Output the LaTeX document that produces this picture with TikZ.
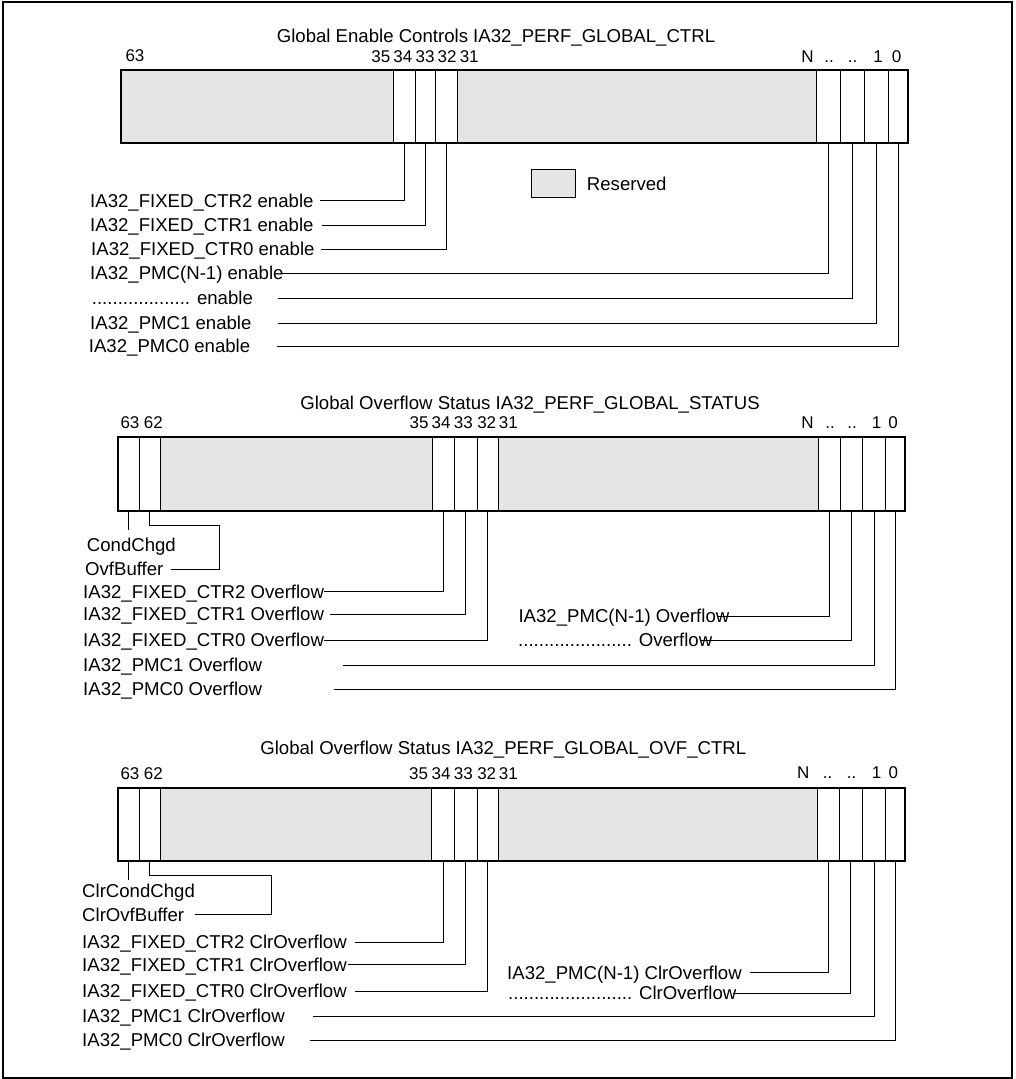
\documentclass[tikz,border=0pt]{standalone}
\usepackage{fontspec}
\setmainfont{Liberation Sans}
\usetikzlibrary{positioning,calc}
\definecolor{rsvgray}{RGB}{229,229,229}
\tikzset{
  lbl/.style={anchor=west,inner sep=0pt,font=\fontsize{18.6}{22}\selectfont,
              text height=13.3pt,text depth=0pt},
  ttl/.style={lbl,anchor=center},
  bitnum/.style={inner sep=0pt,font=\fontsize{17}{20}\selectfont,
                 text height=12.2pt,text depth=0pt},
  cell/.style={draw,line width=0.8pt,inner sep=0pt,outer sep=0pt},
  regframe/.style={draw,line width=2pt,inner sep=0pt,outer sep=0pt},
  wire/.style={line width=0.9pt},
}

\begin{document}
\begin{tikzpicture}[x=1pt,y=-1pt]
  \useasboundingbox (0,0) rectangle (1015,1079);
  \draw[line width=2pt] (2.7,2) rectangle (1011.7,1078);

  % --- IA32_PERF_GLOBAL_CTRL ---
  \node[ttl] (ttlA) at (496,35.5) {Global Enable Controls IA32\_PERF\_GLOBAL\_CTRL};
  \foreach \n/\a/\b/\f in {H/120.7/393.3/rsvgray, F2/393.3/415/white, F1/415/435.7/white,
      F0/435.7/457.7/white, M/457.7/816.7/rsvgray, N/816.7/840/white, D/840/864.3/white,
      P1/864.3/888.3/white, P0/888.3/908.3/white}
    \node[cell,fill=\f,minimum width={\b-\a},minimum height=73.3] (ra\n) at ({(\a+\b)/2},106.7) {};
  \node[regframe,minimum width=787.6,minimum height=73.3] (ra) at (514.5,106.7) {};
  \node[bitnum] (na63) at (135,55.5) {63};
  \foreach \t/\x in {35/380.8, 34/402.9, 33/425, 32/447.1, 31/469.2, N/807.5, ../829, ../852.5, 1/878, 0/896.7}
    \node[bitnum] (na\t) at (\x,56.5) {\t};

  \node[cell,fill=rsvgray,minimum width=44.7,minimum height=28.4] (key) at (553.4,183.5) {};
  \node[lbl,right=11pt of key] (keytxt) {Reserved};

  \node[lbl] (eF2) at (90,200.5) {IA32\_FIXED\_CTR2 enable};
  \node[lbl] (eF1) at (90,225) {IA32\_FIXED\_CTR1 enable};
  \node[lbl] (eF0) at (91,249.3) {IA32\_FIXED\_CTR0 enable};
  \node[lbl] (eN) at (90,273.3) {IA32\_PMC(N-1) enable};
  \node[lbl] (eD) at (91.7,298.3) {................... enable};
  \node[lbl] (eP1) at (90,323.3) {IA32\_PMC1 enable};
  \node[lbl] (eP0) at (88.7,346) {IA32\_PMC0 enable};
  \draw[wire] ([xshift=6pt]eF2.east) -| (raF2.south);
  \draw[wire] ([xshift=8pt]eF1.east) -| (raF1.south);
  \draw[wire] ([xshift=6pt]eF0.east) -| (raF0.south);
  \draw[wire] ([xshift=-2pt]eN.east) -| (raN.south);
  \draw[wire] ([xshift=25pt]eD.east) -| (raD.south);
  \draw[wire] ([xshift=26pt]eP1.east) -| (raP1.south);
  \draw[wire] ([xshift=27pt]eP0.east) -| (raP0.south);

  % --- IA32_PERF_GLOBAL_STATUS ---
  \node[ttl] (ttlB) at (530,403) {Global Overflow Status IA32\_PERF\_GLOBAL\_STATUS};
  \foreach \n/\a/\b/\f in {63/117.7/139.3/white, 62/139.3/160.3/white, H/160.3/432.3/rsvgray,
      F2/432.3/454.3/white, F1/454.3/477.3/white, F0/477.3/498.3/white, M/498.3/818.3/rsvgray,
      N/818.3/840/white, D/840/862.3/white, P1/862.3/885.7/white, P0/885.7/905/white}
    \node[cell,fill=\f,minimum width={\b-\a},minimum height=74] (rb\n) at ({(\a+\b)/2},473.7) {};
  \node[regframe,minimum width=787.3,minimum height=74] (rb) at (511.35,473.7) {};
  \foreach \t/\x in {63/130, 62/153.3, 35/419, 34/441, 33/463.3, 32/486.7, 31/508.3}
    \node[bitnum] (nb\t) at (\x,422) {\t};
  \foreach \t/\x in {N/807.5, ../830, ../852, 1/876.7, 0/893}
    \node[bitnum] (nb\t) at (\x,422.7) {\t};

  \node[lbl] (oC) at (86.7,545) {CondChgd};
  \node[lbl] (oB) at (85,569) {OvfBuffer};
  \node[lbl] (oF2) at (83,591.5) {IA32\_FIXED\_CTR2 Overflow};
  \node[lbl] (oF1) at (83,614) {IA32\_FIXED\_CTR1 Overflow};
  \node[lbl] (oF0) at (83,640) {IA32\_FIXED\_CTR0 Overflow};
  \node[lbl] (oP1) at (83,665.3) {IA32\_PMC1 Overflow};
  \node[lbl] (oP0) at (83,689) {IA32\_PMC0 Overflow};
  \node[lbl] (oN) at (518.3,616) {IA32\_PMC(N-1) Overflow};
  \node[lbl] (oD) at (518,640) {...................... Overflow};
  \draw[wire] (rb63.south) -- ([yshift=8pt]rb63.south |- oC.north);
  \draw[wire] ([xshift=7.6pt]oB.east) -| ([xshift=69.5pt,yshift=-14.6pt]rb62.south) -| (rb62.south);
  \draw[wire] (oF2.east) -| (rbF2.south);
  \draw[wire] ([xshift=5.6pt]oF1.east) -| (rbF1.south);
  \draw[wire] (oF0.east) -| (rbF0.south);
  \draw[wire] ([xshift=81pt]oP1.east) -| (rbP1.south);
  \draw[wire] ([xshift=72pt]oP0.east) -| (rbP0.south);
  \draw[wire] ([xshift=-13pt]oN.east) -| (rbN.south);
  \draw[wire] ([xshift=-12pt]oD.east) -| (rbD.south);

  % --- IA32_PERF_GLOBAL_OVF_CTRL ---
  \node[ttl] (ttlC) at (503.3,747.8) {Global Overflow Status IA32\_PERF\_GLOBAL\_OVF\_CTRL};
  \foreach \n/\a/\b/\f in {63/117.7/139.3/white, 62/139.3/160.3/white, H/160.3/431.7/rsvgray,
      F2/431.7/454.3/white, F1/454.3/477.3/white, F0/477.3/498.3/white, M/498.3/817.3/rsvgray,
      N/817.3/839.3/white, D/839.3/862.3/white, P1/862.3/885.7/white, P0/885.7/905/white}
    \node[cell,fill=\f,minimum width={\b-\a},minimum height=73] (rc\n) at ({(\a+\b)/2},824.2) {};
  \node[regframe,minimum width=787.3,minimum height=73] (rc) at (511.35,824.2) {};
  \foreach \t/\x in {63/130, 62/153.3, 35/418.5, 34/441, 33/463.3, 32/486.7, 31/508.3}
    \node[bitnum] (nc\t) at (\x,773.5) {\t};
  \foreach \t/\x in {N/803.3, ../827.5, ../851.7, 1/876.7, 0/893.3}
    \node[bitnum] (nc\t) at (\x,772.5) {\t};

  \node[lbl] (cC) at (82,891) {ClrCondChgd};
  \node[lbl] (cB) at (82,914.5) {ClrOvfBuffer};
  \node[lbl] (cF2) at (82,942) {IA32\_FIXED\_CTR2 ClrOverflow};
  \node[lbl] (cF1) at (82,964.5) {IA32\_FIXED\_CTR1 ClrOverflow};
  \node[lbl] (cF0) at (82,991) {IA32\_FIXED\_CTR0 ClrOverflow};
  \node[lbl] (cP1) at (82,1016) {IA32\_PMC1 ClrOverflow};
  \node[lbl] (cP0) at (82,1040) {IA32\_PMC0 ClrOverflow};
  \node[lbl] (cN) at (507,972.7) {IA32\_PMC(N-1) ClrOverflow};
  \node[lbl] (cD) at (508,993.3) {........................ ClrOverflow};
  \draw[wire] (rc63.south) -- ([yshift=4pt]rc63.south |- cC.north);
  \draw[wire] ([xshift=11pt]cB.east) -| ([xshift=121.9pt,yshift=-15pt]rc62.south) -| (rc62.south);
  \draw[wire] ([xshift=7.6pt]cF2.east) -| (rcF2.south);
  \draw[wire] ([xshift=1pt]cF1.east) -| (rcF1.south);
  \draw[wire] ([xshift=8pt]cF0.east) -| (rcF0.south);
  \draw[wire] ([xshift=28pt]cP1.east) -| (rcP1.south);
  \draw[wire] ([xshift=25pt]cP0.east) -| (rcP0.south);
  \draw[wire] ([xshift=8pt]cN.east) -| (rcN.south);
  \draw[wire] ([xshift=-3pt]cD.east) -| (rcD.south);
\end{tikzpicture}
\end{document}
